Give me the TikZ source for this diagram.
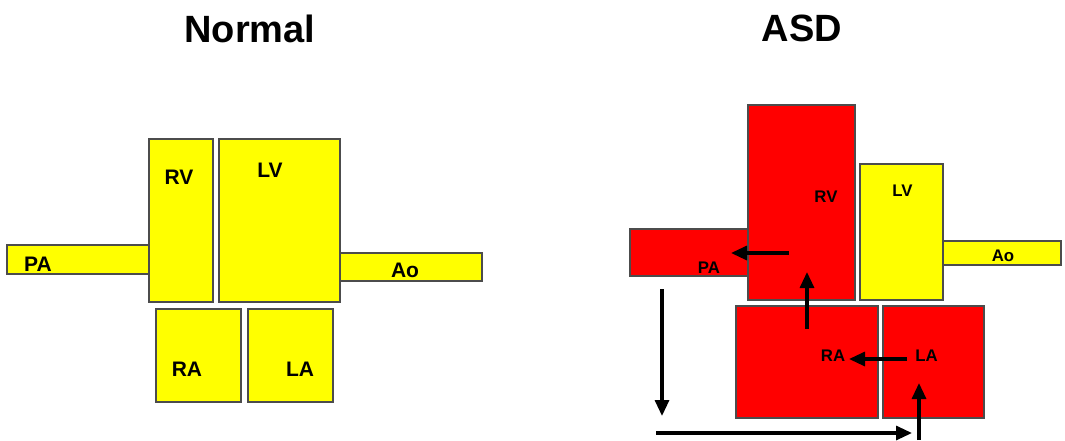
\documentclass[tikz,border=0pt]{standalone}
\usepackage{fontspec}
\setmainfont{Liberation Sans}
\usetikzlibrary{arrows.meta}
\definecolor{venous}{RGB}{255,0,0}
\definecolor{arterial}{RGB}{255,255,0}
\tikzset{
  chamber/.style={draw=black!70, line width=0.6pt},
  title/.style={font=\bfseries\fontsize{19}{22}\selectfont, inner sep=0pt},
  biglbl/.style={font=\bfseries\fontsize{10.5}{12}\selectfont, inner sep=0pt},
  smalllbl/.style={font=\bfseries\fontsize{8.4}{10}\selectfont, inner sep=0pt},
  flow/.style={line width=1.6pt, -{Triangle[length=8pt,width=7pt]}},
}
\begin{document}
\begin{tikzpicture}[x=0.5pt,y=-0.5pt]
  \useasboundingbox (0,0) rectangle (1065,440);
  \node[title] (tnormal) at (250,28.5) {Normal};
  \node[title] (tasd) at (802,28.5) {ASD};

  \draw[chamber, fill=arterial] (7,245) rectangle (149,274);
  \draw[chamber, fill=arterial] (149,139) rectangle (213,302);
  \draw[chamber, fill=arterial] (219,139) rectangle (340,302);
  \draw[chamber, fill=arterial] (340,253) rectangle (482,281);
  \draw[chamber, fill=arterial] (156,309) rectangle (241,402);
  \draw[chamber, fill=arterial] (248,309) rectangle (333,402);
  \node[biglbl] (nPA) at (38,264) {PA};
  \node[biglbl] (nRV) at (179,177) {RV};
  \node[biglbl] (nLV) at (270,170.5) {LV};
  \node[biglbl] (nAo) at (405,270) {Ao};
  \node[biglbl] (nRA) at (187,369.5) {RA};
  \node[biglbl] (nLA) at (300,369.5) {LA};

  \draw[chamber, fill=venous] (630,229) rectangle (748,276);
  \draw[chamber, fill=venous] (748,105) rectangle (855,300);
  \draw[chamber, fill=arterial] (860,164) rectangle (943,300);
  \draw[chamber, fill=arterial] (943,241) rectangle (1061,265);
  \draw[chamber, fill=venous] (736,306) rectangle (878,418);
  \draw[chamber, fill=venous] (883,306) rectangle (984,418);
  \node[smalllbl] (aPA) at (709,268) {PA};
  \node[smalllbl] (aRV) at (826,197) {RV};
  \node[smalllbl] (aLV) at (902.5,191) {LV};
  \node[smalllbl] (aAo) at (1003,256) {Ao};
  \node[smalllbl] (aRA) at (833,356) {RA};
  \node[smalllbl] (aLA) at (926.5,356) {LA};

  \coordinate (rvout) at (789,253);
  \coordinate (pain) at (731,253);
  \coordinate (raout) at (807,329);
  \coordinate (rvin) at (807,272);
  \coordinate (laout) at (907,359);
  \coordinate (rain) at (849,359);
  \coordinate (lungtop) at (662,289);
  \coordinate (lungbot) at (662,416);
  \coordinate (veinstart) at (656,433);
  \coordinate (veinend) at (912,433);
  \coordinate (pvstart) at (919,440);
  \coordinate (lain) at (919,383);
  \draw[flow] (rvout) -- (pain);
  \draw[flow] (raout) -- (rvin);
  \draw[flow] (laout) -- (rain);
  \draw[flow] (lungtop) -- (lungbot);
  \draw[flow] (veinstart) -- (veinend);
  \draw[flow] (pvstart) -- (lain);
\end{tikzpicture}
\end{document}
